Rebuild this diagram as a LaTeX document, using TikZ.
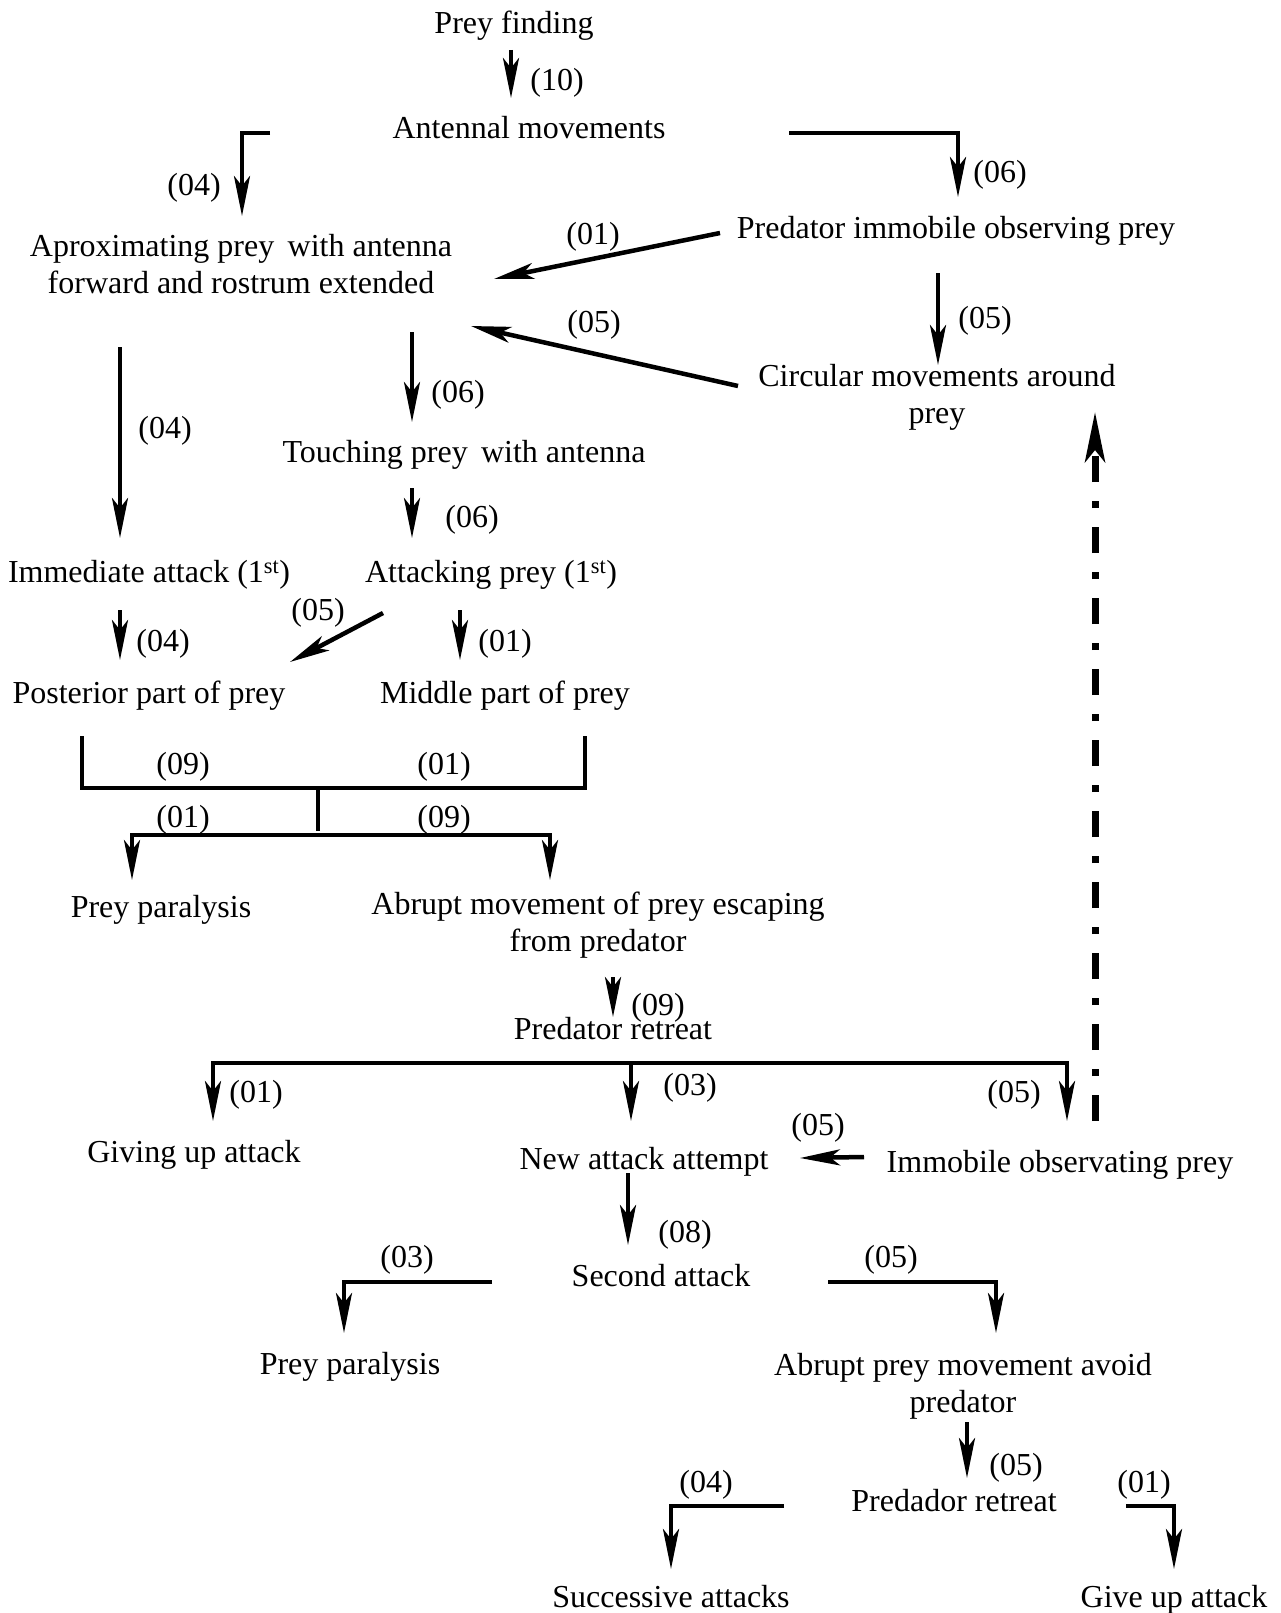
\documentclass[tikz,border=0pt]{standalone}
\usepackage{fontspec}
\setmainfont{Liberation Serif}
\usetikzlibrary{arrows.meta}
\tikzset{
  txt/.style={font=\fontsize{32}{37}\selectfont,inner sep=0pt,align=center,yshift=-3pt,
    execute at begin node=\strut,execute at end node=\strut},
  num/.style={txt},
  ln/.style={line width=4.5pt},
  arr/.style={ln,-{Stealth[length=40pt,width=16pt,inset=10pt]}},
  dashdot/.style={line width=7pt,dash pattern=on 26pt off 19pt on 7pt off 19pt,
    -{Stealth[length=50pt,width=20pt,inset=12pt]}}
}
\begin{document}
\begin{tikzpicture}[x=1pt,y=-1pt]
\useasboundingbox (0,0) rectangle (1281,1613);
\node[txt] (pf) at (514,23) {Prey finding};
\node[txt] (am) at (529,128) {Antennal movements};
\node[txt] (apx) at (241,266) {Aproximating prey\, with antenna\\forward and rostrum extended};
\node[txt] (pio) at (956,228) {Predator immobile observing prey};
\node[txt] (cma) at (937,396) {Circular movements around\\prey};
\node[txt] (tpa) at (464,452) {Touching prey\, with antenna};
\node[txt] (ia) at (149,572) {Immediate attack (1\textsuperscript{st})};
\node[txt] (ap) at (491,572) {Attacking prey (1\textsuperscript{st})};
\node[txt] (ppp) at (149,693) {Posterior part of prey};
\node[txt] (mpp) at (505,693) {Middle part of prey};
\node[txt] (pp1) at (161,907) {Prey paralysis};
\node[txt] (ame) at (598,924) {Abrupt movement of prey escaping\\from predator};
\node[txt] (pr1) at (613,1029) {Predator retreat};
\node[txt] (gua) at (194,1152) {Giving up attack};
\node[txt] (naa) at (644,1159) {New attack attempt};
\node[txt] (iop) at (1060,1162) {Immobile observating prey};
\node[txt] (sa) at (661,1276) {Second attack};
\node[txt] (pp2) at (350,1364) {Prey paralysis};
\node[txt] (apm) at (963,1385) {Abrupt prey movement avoid\\predator};
\node[txt] (pr2) at (954,1501) {Predador retreat};
\node[txt] (suc) at (671,1597) {Successive attacks};
\node[txt] (gup) at (1174,1597) {Give up attack};

\node[num] (n1) at (557,80) {(10)};
\node[num] (n2) at (194,185) {(04)};
\node[num] (n3) at (1000,172) {(06)};
\node[num] (n4) at (593,234) {(01)};
\node[num] (n5) at (985,318) {(05)};
\node[num] (n6) at (594,322) {(05)};
\node[num] (n7) at (165,428) {(04)};
\node[num] (n8) at (458,392) {(06)};
\node[num] (n9) at (472,517) {(06)};
\node[num] (n10) at (163,641) {(04)};
\node[num] (n11) at (318,610) {(05)};
\node[num] (n12) at (505,641) {(01)};
\node[num] (n13) at (183,764) {(09)};
\node[num] (n14) at (444,764) {(01)};
\node[num] (n15) at (183,817) {(01)};
\node[num] (n16) at (444,817) {(09)};
\node[num] (n17) at (658,1005) {(09)};
\node[num] (n18) at (256,1092) {(01)};
\node[num] (n19) at (690,1085) {(03)};
\node[num] (n20) at (1014,1092) {(05)};
\node[num] (n21) at (818,1125) {(05)};
\node[num] (n22) at (685,1232) {(08)};
\node[num] (n23) at (407,1257) {(03)};
\node[num] (n24) at (891,1257) {(05)};
\node[num] (n25) at (1016,1465) {(05)};
\node[num] (n26) at (706,1482) {(04)};
\node[num] (n27) at (1144,1482) {(01)};

\coordinate (pfs) at (511,50);      \coordinate (amt) at (511,98);
\coordinate (aml) at (270,133);     \coordinate (apxt) at (242,216);
\coordinate (amr) at (789,133);     \coordinate (piot) at (958,197);
\coordinate (pios) at (720,233);    \coordinate (apxr) at (494,279);
\coordinate (piob) at (938,273);    \coordinate (cmat) at (938,365);
\coordinate (cmal) at (738,386);    \coordinate (apxr2) at (471,326);
\coordinate (apxb) at (120,347);    \coordinate (iat) at (120,538);
\coordinate (apxb2) at (412,332);   \coordinate (tpat) at (412,422);
\coordinate (tpab) at (412,488);    \coordinate (apt) at (412,538);
\coordinate (iab) at (120,610);     \coordinate (pppt) at (120,660);
\coordinate (apl) at (383,613);     \coordinate (pppr) at (290,662);
\coordinate (apb) at (460,610);     \coordinate (mppt) at (460,660);
\coordinate (pppb) at (82,736);     \coordinate (mppb) at (585,736);
\coordinate (bj) at (318,788);      \coordinate (bk) at (318,835);
\coordinate (pp1t) at (132,880);    \coordinate (amet) at (550,880);
\coordinate (ameb) at (613,977);    \coordinate (pr1t) at (613,1017);
\coordinate (pr1b) at (631,1063);
\coordinate (guat) at (213,1121);   \coordinate (naat) at (631,1121);
\coordinate (iopt) at (1067,1121);
\coordinate (iopr) at (1095,1121);  \coordinate (cmab) at (1095,412);
\coordinate (iopl) at (864,1157);   \coordinate (naar) at (800,1158);
\coordinate (naab) at (628,1173);   \coordinate (sat) at (628,1245);
\coordinate (sal) at (492,1282);    \coordinate (pp2t) at (344,1333);
\coordinate (sar) at (828,1282);    \coordinate (apmt) at (996,1333);
\coordinate (apmb) at (967,1422);   \coordinate (pr2t) at (967,1478);
\coordinate (pr2l) at (784,1506);   \coordinate (suct) at (671,1569);
\coordinate (pr2r) at (1126,1506);  \coordinate (gupt) at (1174,1569);

\draw[arr] (pfs) -- (amt);
\draw[arr] (aml) -| (apxt);
\draw[arr] (amr) -| (piot);
\draw[arr] (pios) -- (apxr);
\draw[arr] (piob) -- (cmat);
\draw[arr] (cmal) -- (apxr2);
\draw[arr] (apxb) -- (iat);
\draw[arr] (apxb2) -- (tpat);
\draw[arr] (tpab) -- (apt);
\draw[arr] (iab) -- (pppt);
\draw[arr] (apl) -- (pppr);
\draw[arr] (apb) -- (mppt);
\draw[ln] (pppb) |- (bj) -| (mppb);
\draw[ln] (bj) -- ([yshift=4pt]bk);
\draw[arr] (bk) -| (pp1t);
\draw[arr] (bk) -| (amet);
\draw[arr] (ameb) -- (pr1t);
\draw[ln] (guat |- pr1b) -- (iopt |- pr1b);
\draw[arr] (pr1b) -| (guat);
\draw[arr] (pr1b) -- (naat);
\draw[arr] (pr1b) -| (iopt);
\draw[dashdot] (iopr) -- (cmab);
\draw[arr] (iopl) -- (naar);
\draw[arr] (naab) -- (sat);
\draw[arr] (sal) -| (pp2t);
\draw[arr] (sar) -| (apmt);
\draw[arr] (apmb) -- (pr2t);
\draw[arr] (pr2l) -| (suct);
\draw[arr] (pr2r) -| (gupt);
\end{tikzpicture}
\end{document}
